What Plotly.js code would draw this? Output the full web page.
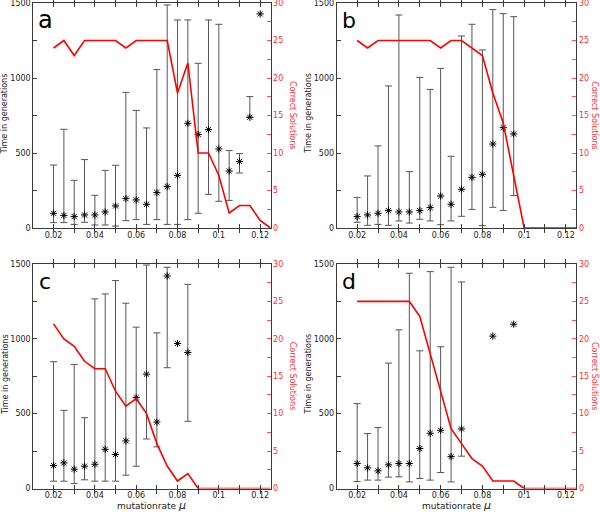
<!DOCTYPE html>
<html>
<head>
<meta charset="utf-8">
<script src="https://cdn.plot.ly/plotly-3.0.1.min.js"></script>
<style>html,body{margin:0;padding:0;background:#fff;}#chart{width:600px;height:512px;}</style>
</head>
<body>
<div id="chart"></div>
<script>
// ---------- data ----------
const solX = [0.02,0.025,0.03,0.035,0.04,0.045,0.05,0.055,0.06,0.065,0.07,0.075,0.08,0.085,0.09,0.095,0.1,0.105,0.11,0.115,0.12,0.125];

// panel a
const aX    = [0.02,0.025,0.03,0.035,0.04,0.045,0.05,0.055,0.06,0.065,0.07,0.075,0.08,0.085,0.09,0.095,0.1,0.105,0.11,0.115,0.12];
const aMean = [98,84,76,87,87,107,147,196,187,158,236,276,351,698,624,656,527,380,444,738,1427];
const aHigh = [420,658,318,456,218,384,418,904,784,667,1056,1487,1387,1387,1098,1387,1358,516,496,876,NaN];
const aLow  = [36,36,24,38,20,20,13,49,56,24,56,24,24,56,98,224,178,184,367,738,NaN];
const aSol  = [24,25,23,25,25,25,25,24,25,25,25,25,18,22,10,10,7,2,3,3,1,0];

// panel b
const bX    = [0.02,0.025,0.03,0.035,0.04,0.045,0.05,0.055,0.06,0.065,0.07,0.075,0.08,0.085,0.09,0.095];
const bMean = [76,87,98,116,107,107,116,136,213,158,258,338,358,560,669,627];
const bHigh = [204,347,547,947,1420,376,1004,924,1064,478,1280,1358,1187,1456,1429,1409];
const bLow  = [38,18,24,18,47,33,58,47,22,47,78,124,16,138,116,216];
const bSol  = [25,24,25,25,25,25,25,25,24,25,25,24,23,18,14,7,0,0,0,0,0,0];

// panel c
const cX    = [0.02,0.025,0.03,0.035,0.04,0.045,0.05,0.055,0.06,0.065,0.07,0.075,0.08,0.085];
const cMean = [153,171,129,149,162,262,227,318,607,764,444,1420,969,909];
const cHigh = [847,522,829,473,1267,1300,1389,1238,1078,1493,1040,1478,NaN,1364];
const cLow  = [49,49,33,58,49,49,49,89,149,331,278,807,NaN,449];
const cSol  = [22,20,19,17,16,16,13,11,12,10,6,3,1,2,0,0,0,0,0,0,0,0];

// panel d
const dX    = [0.02,0.025,0.03,0.035,0.04,0.045,0.05,0.055,0.06,0.065,0.07,0.085,0.095];
const dMean = [167,138,118,158,167,167,267,369,389,213,398,1018,1098];
const dHigh = [567,367,407,838,1060,1438,920,1449,947,1478,1380,NaN,NaN];
const dLow  = [47,56,56,76,78,44,67,56,107,44,216,NaN,NaN];
const dSol  = [25,25,25,25,25,25,23,18,13,8,6,4,3,1,1,1,0,0,0,0,0,0];

// tick labels
const xTickVals = [0.02,0.03,0.04,0.05,0.06,0.07,0.08,0.09,0.10,0.11,0.12];
const xTickText = ['0.02','','0.04','','0.06','','0.08','','0.1','','0.12'];
const yTickVals = [0,250,500,750,1000,1250,1500];
const yTickText = ['0','','500','','1000','','1500'];
const y2TickVals = [0,2.5,5,7.5,10,12.5,15,17.5,20,22.5,25,27.5,30];
const y2TickText = ['0','','5','','10','','15','','20','','25','','30'];

const panelLetters = ['a','b','c','d'];
const leftTitle = 'Time in generations';
const rightTitle = 'Correct Solutions';
const xTitle = 'mutationrate <span style="font-size:11px"><i>μ</i></span>';

// ---------- layout helpers ----------
const W = 600, H = 512;
const px = v => v / W;
const py = v => 1 - v / H;

const panels = [
  {X:aX, M:aMean, Hi:aHigh, Lo:aLow, S:aSol, x0:33.3, x1:270.5, yTop:3,   yBot:228, rt:22},
  {X:bX, M:bMean, Hi:bHigh, Lo:bLow, S:bSol, x0:336.7, x1:576.3, yTop:3,  yBot:228, rt:18},
  {X:cX, M:cMean, Hi:cHigh, Lo:cLow, S:cSol, x0:33.3, x1:270.5, yTop:264, yBot:488.5, rt:22},
  {X:dX, M:dMean, Hi:dHigh, Lo:dLow, S:dSol, x0:336.7, x1:576.3, yTop:264, yBot:488.5, rt:18}
];

const axisGrey = '#3a3a3a';
const tickFont = {family:'DejaVu Sans', size:8, color:'#222'};
const redFont = {family:'DejaVu Sans', size:8, color:'#ff3030'};

const data = [];
const layout = {
  width: W, height: H,
  margin: {l:0, r:0, t:0, b:0},
  paper_bgcolor: '#fff', plot_bgcolor: 'rgba(0,0,0,0)',
  showlegend: false,
  annotations: []
};

panels.forEach((p, i) => {
  const xn = i + 1;
  const xs = xn === 1 ? '' : String(xn);
  const yl = 2 * i + 1, yr = 2 * i + 2;
  const yls = yl === 1 ? '' : String(yl);
  const yrs = String(yr);

  data.push({
    type: 'scatter', mode: 'markers',
    x: p.X, y: p.M,
    xaxis: 'x' + xs, yaxis: 'y' + yls,
    marker: {symbol: 'asterisk-open', size: 6, color: '#000', line: {color: '#000', width: 1}},
    error_y: {
      type: 'data', symmetric: false,
      array: p.Hi.map((h, k) => h - p.M[k]),
      arrayminus: p.Lo.map((l, k) => p.M[k] - l),
      color: '#555', thickness: 1, width: 3.5
    },
    hoverinfo: 'skip'
  });
  data.push({
    type: 'scatter', mode: 'lines',
    x: solX, y: p.S,
    xaxis: 'x' + xs, yaxis: 'y' + yrs,
    line: {color: '#ff0000', width: 1.6},
    hoverinfo: 'skip'
  });

  layout['xaxis' + xs] = {
    domain: [px(p.x0), px(p.x1)],
    anchor: 'y' + yls,
    range: [0.0102, 0.125],
    tickmode: 'array', tickvals: xTickVals, ticktext: xTickText,
    ticks: 'inside', ticklen: 4, tickcolor: axisGrey, tickwidth: 1,
    showline: true, linecolor: axisGrey, linewidth: 1, mirror: 'allticks',
    showgrid: false, zeroline: false, ticklabeloverflow: 'allow',
    ticklabelstandoff: -1,
    tickfont: tickFont
  };
  layout['yaxis' + yls] = {
    domain: [py(p.yBot), py(p.yTop)],
    anchor: 'x' + xs,
    range: [0, 1500],
    tickmode: 'array', tickvals: yTickVals, ticktext: yTickText,
    ticks: 'inside', ticklen: 4, tickcolor: axisGrey, tickwidth: 1,
    showline: true, linecolor: axisGrey, linewidth: 1,
    showgrid: false, zeroline: false, ticklabeloverflow: 'allow',
    tickfont: tickFont
  };
  layout['yaxis' + yrs] = {
    overlaying: 'y' + yls,
    anchor: 'x' + xs,
    side: 'right',
    range: [0, 30],
    tickmode: 'array', tickvals: y2TickVals, ticktext: y2TickText,
    ticks: 'inside', ticklen: 4, tickcolor: '#ff5050', tickwidth: 1,
    showline: true, linecolor: axisGrey, linewidth: 1,
    showgrid: false, zeroline: false, ticklabeloverflow: 'allow',
    tickfont: redFont
  };

  const yMid = (p.yTop + p.yBot) / 2;
  // left axis title
  layout.annotations.push({
    xref: 'paper', yref: 'paper', x: px(p.x0 - 28.5), y: py(yMid - 2),
    text: leftTitle, textangle: -90, showarrow: false,
    xanchor: 'center', yanchor: 'middle',
    font: {family: 'DejaVu Sans', size: 8, color: '#222'}
  });
  // right axis title
  layout.annotations.push({
    xref: 'paper', yref: 'paper', x: px(p.x1 + p.rt), y: py(yMid),
    text: rightTitle, textangle: 90, showarrow: false,
    xanchor: 'center', yanchor: 'middle',
    font: {family: 'DejaVu Sans', size: 8, color: '#ff3030'}
  });
  // panel letter
  layout.annotations.push({
    xref: 'paper', yref: 'paper', x: px(p.x0 + 12), y: py(p.yTop + 17),
    text: panelLetters[i], showarrow: false,
    xanchor: 'center', yanchor: 'middle',
    font: {family: 'DejaVu Sans', size: i === 0 ? 24 : 22, color: '#000'}
  });
  // x title for bottom panels
  if (i >= 2) {
    layout.annotations.push({
      xref: 'paper', yref: 'paper', x: px((p.x0 + p.x1) / 2), y: py(505.5),
      text: xTitle, showarrow: false,
      xanchor: 'center', yanchor: 'middle', borderpad: 0,
      font: {family: 'DejaVu Sans', size: 9, color: '#222'}
    });
  }
});

Plotly.newPlot('chart', data, layout, {staticPlot: true, displayModeBar: false});
</script>
</body>
</html>
